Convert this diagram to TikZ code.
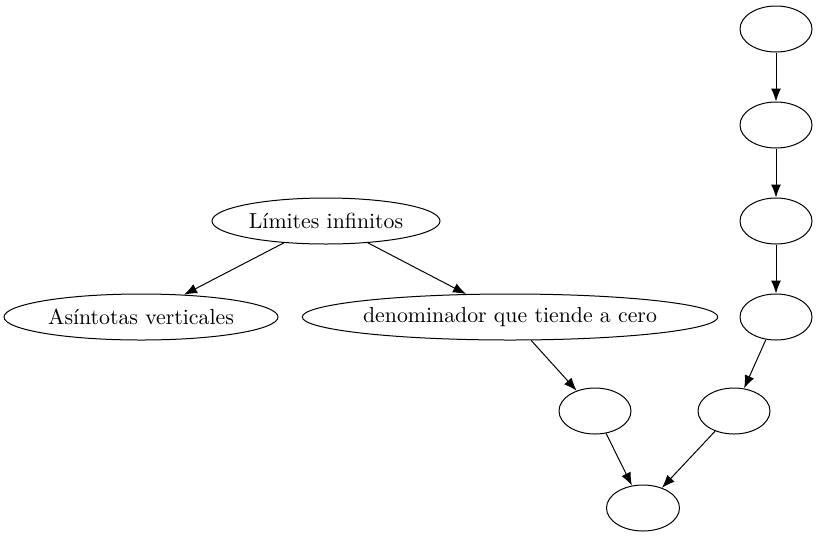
\documentclass[tikz,border=0pt]{standalone}
\usepackage{fontspec}
\newfontfamily\lmten[Extension=.otf]{lmroman10-regular}
\usetikzlibrary{shapes.geometric,arrows.meta}
\begin{document}
\begin{tikzpicture}[x=1pt,y=-1pt,
  ell/.style={draw, ellipse, inner sep=0pt, line width=1pt,
    minimum height=46pt, font=\lmten\fontsize{21.8}{26}\selectfont},
  edge/.style={draw, line width=1pt, -{Latex[length=13pt,width=10pt]}}]
\useasboundingbox (0,0) rectangle (818,539);
\node[ell, minimum width=228pt] (lim) at (326,221) {Límites infinitos};
\node[ell, minimum width=274pt] (asi) at (141,317) {Asíntotas verticales};
\node[ell, minimum width=414pt] (den) at (510,317) {denominador que tiende a cero};
\node[ell, minimum width=72pt] (a1) at (776,29) {};
\node[ell, minimum width=72pt] (a2) at (776,125) {};
\node[ell, minimum width=72pt] (a3) at (776,221) {};
\node[ell, minimum width=72pt] (a4) at (776,317) {};
\node[ell, minimum width=72pt] (b1) at (595,411) {};
\node[ell, minimum width=72pt] (b2) at (734,411) {};
\node[ell, minimum width=73pt] (c) at (643,508) {};
\draw[edge] (lim) -- (asi);
\draw[edge] (lim) -- (den);
\draw[edge] (den) -- (b1);
\draw[edge] (a1) -- (a2);
\draw[edge] (a2) -- (a3);
\draw[edge] (a3) -- (a4);
\draw[edge] (a4) -- (b2);
\draw[edge] (b1) -- (c);
\draw[edge] (b2) -- (c);
\end{tikzpicture}
\end{document}
